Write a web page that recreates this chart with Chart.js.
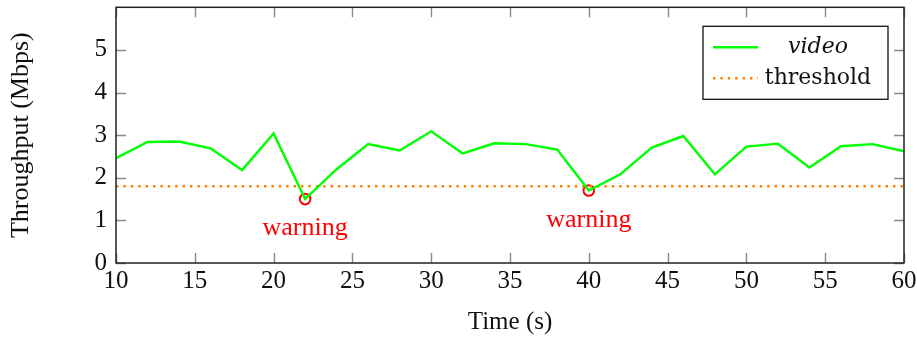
<!DOCTYPE html>
<html>
<head>
<meta charset="utf-8">
<title>Throughput over time</title>
<script src="https://cdn.jsdelivr.net/npm/chart.js@4/dist/chart.umd.min.js"></script>
<style>
  html, body { margin: 0; padding: 0; background: #fff; }
  #wrap { width: 917px; height: 338px; position: relative; }
</style>
</head>
<body>
<div id="wrap"><canvas id="c"></canvas></div>
<script>
// Sample times (s) and measured video throughput (Mbps)
const times = [10, 12, 14, 16, 18, 20, 22, 24, 26, 28, 30, 32, 34, 36, 38, 40, 42, 44, 46, 48, 50, 52, 54, 56, 58, 60];
const videoMbps = [2.46, 2.84, 2.85, 2.69, 2.18, 3.04, 1.50, 2.20, 2.79, 2.64, 3.09, 2.57, 2.81, 2.79, 2.66, 1.70, 2.08, 2.71, 2.98, 2.08, 2.73, 2.80, 2.24, 2.74, 2.79, 2.62];
const thresholdMbps = 1.8;
// Times at which throughput fell below the threshold
const warningTimes = [22, 40];
const warningText = 'warning';
const xTicks = [10, 15, 20, 25, 30, 35, 40, 45, 50, 55, 60];
const yTicks = [0, 1, 2, 3, 4, 5];

const GREEN = 'rgb(0,255,0)';
const ORANGE = 'rgb(255,128,0)';
const RED = 'rgb(255,0,0)';
const SERIF = '"Liberation Serif", "Times New Roman", serif';
const LEGEND_FONT = '"DejaVu Serif", serif';

const videoPoints = times.map((t, i) => ({ x: t, y: videoMbps[i] }));
const thresholdPoints = [times[0], times[times.length - 1]].map(t => ({ x: t, y: thresholdMbps }));
const warningPoints = warningTimes.map(t => ({ x: t, y: videoMbps[times.indexOf(t)] }));

// Frame around the plot area with inward tick marks on all four sides
const framePlugin = {
  id: 'frame',
  afterDatasetsDraw(chart) {
    const { ctx, chartArea: a, scales } = chart;
    const len = 10;
    ctx.save();
    ctx.strokeStyle = '#8a8a8a';
    ctx.lineWidth = 1.4;
    ctx.beginPath();
    scales.x.ticks.forEach(t => {
      const px = Math.round(scales.x.getPixelForValue(t.value)) + 0.5;
      ctx.moveTo(px, a.bottom); ctx.lineTo(px, a.bottom - len);
      ctx.moveTo(px, a.top); ctx.lineTo(px, a.top + len);
    });
    scales.y.ticks.forEach(t => {
      const py = Math.round(scales.y.getPixelForValue(t.value)) + 0.5;
      ctx.moveTo(a.left, py); ctx.lineTo(a.left + len, py);
      ctx.moveTo(a.right, py); ctx.lineTo(a.right - len, py);
    });
    ctx.stroke();
    ctx.strokeStyle = '#222';
    ctx.lineWidth = 1.5;
    ctx.strokeRect(a.left, a.top, a.right - a.left, a.bottom - a.top);
    ctx.restore();
  }
};

// Red text under each warning marker
const warningLabelPlugin = {
  id: 'warningLabels',
  afterDatasetsDraw(chart) {
    const { ctx, scales } = chart;
    ctx.save();
    ctx.fillStyle = RED;
    ctx.font = '26px ' + SERIF;
    ctx.textAlign = 'center';
    ctx.textBaseline = 'alphabetic';
    warningPoints.forEach(p => {
      ctx.fillText(warningText, scales.x.getPixelForValue(p.x), scales.y.getPixelForValue(p.y) + 36);
    });
    ctx.restore();
  }
};

// Boxed legend in the upper right corner of the plot
const boxLegendPlugin = {
  id: 'boxLegend',
  afterDraw(chart) {
    const { ctx, chartArea: a } = chart;
    const items = chart.data.datasets.filter(d => d.showInLegend);
    const boxW = 185, rowH = 31, boxH = 11 + rowH * items.length;
    const bx = a.right - 16 - boxW, by = a.top + 19;
    ctx.save();
    ctx.fillStyle = '#fff';
    ctx.fillRect(bx, by, boxW, boxH);
    ctx.strokeStyle = '#111';
    ctx.lineWidth = 1.3;
    ctx.strokeRect(bx, by, boxW, boxH);
    items.forEach((d, i) => {
      const cy = by + 21 + i * rowH;
      ctx.beginPath();
      ctx.strokeStyle = d.borderColor;
      ctx.lineWidth = d.borderWidth;
      ctx.setLineDash(d.borderDash || []);
      ctx.moveTo(bx + 10, cy);
      ctx.lineTo(bx + 55, cy);
      ctx.stroke();
      ctx.setLineDash([]);
      ctx.fillStyle = '#111';
      ctx.font = (d.legendItalic ? 'italic ' : '') + '22px ' + LEGEND_FONT;
      ctx.textAlign = 'center';
      ctx.textBaseline = 'middle';
      ctx.fillText(d.label, bx + 115, cy);
    });
    ctx.restore();
  }
};

new Chart(document.getElementById('c'), {
  type: 'line',
  data: {
    datasets: [
      {
        label: 'video',
        data: videoPoints,
        borderColor: GREEN,
        borderWidth: 2.4,
        pointRadius: 0,
        tension: 0,
        showInLegend: true,
        legendItalic: true
      },
      {
        label: 'threshold',
        data: thresholdPoints,
        borderColor: ORANGE,
        borderWidth: 2.4,
        borderDash: [2.4, 5],
        borderCapStyle: 'butt',
        pointRadius: 0,
        showInLegend: true
      },
      {
        label: 'warnings',
        data: warningPoints,
        showLine: false,
        pointRadius: 5.3,
        pointBorderWidth: 2,
        pointBorderColor: RED,
        pointBackgroundColor: 'rgba(0,0,0,0)',
        pointStyle: 'circle'
      }
    ]
  },
  options: {
    responsive: true,
    maintainAspectRatio: false,
    animation: false,
    layout: { padding: { left: 0, right: 13, top: 4, bottom: 0 } },
    plugins: {
      legend: { display: false },
      tooltip: { enabled: false }
    },
    scales: {
      x: {
        type: 'linear',
        min: 10,
        max: 60,
        offset: false,
        afterBuildTicks: s => { s.ticks = xTicks.map(v => ({ value: v })); },
        afterFit: s => { s.height = 75; s.paddingLeft = 0; s.paddingRight = 0; },
        grid: { display: false, drawTicks: false },
        border: { display: false },
        ticks: {
          color: '#111',
          padding: 3,
          maxRotation: 0,
          font: { family: SERIF, size: 25 }
        },
        title: {
          display: true,
          text: 'Time (s)',
          color: '#111',
          padding: { top: 0, bottom: 1 },
          font: { family: SERIF, size: 25 }
        }
      },
      y: {
        min: 0,
        max: 6,
        afterBuildTicks: s => { s.ticks = yTicks.map(v => ({ value: v })); },
        afterFit: s => { s.width = 116; s.paddingTop = 0; s.paddingBottom = 0; },
        grid: { display: false, drawTicks: false },
        border: { display: false },
        ticks: {
          color: '#111',
          padding: 9,
          font: { family: SERIF, size: 25 }
        },
        title: {
          display: true,
          text: 'Throughput (Mbps)',
          color: '#111',
          padding: { top: 6, bottom: 0 },
          font: { family: SERIF, size: 26 }
        }
      }
    }
  },
  plugins: [framePlugin, warningLabelPlugin, boxLegendPlugin]
});
</script>
</body>
</html>
